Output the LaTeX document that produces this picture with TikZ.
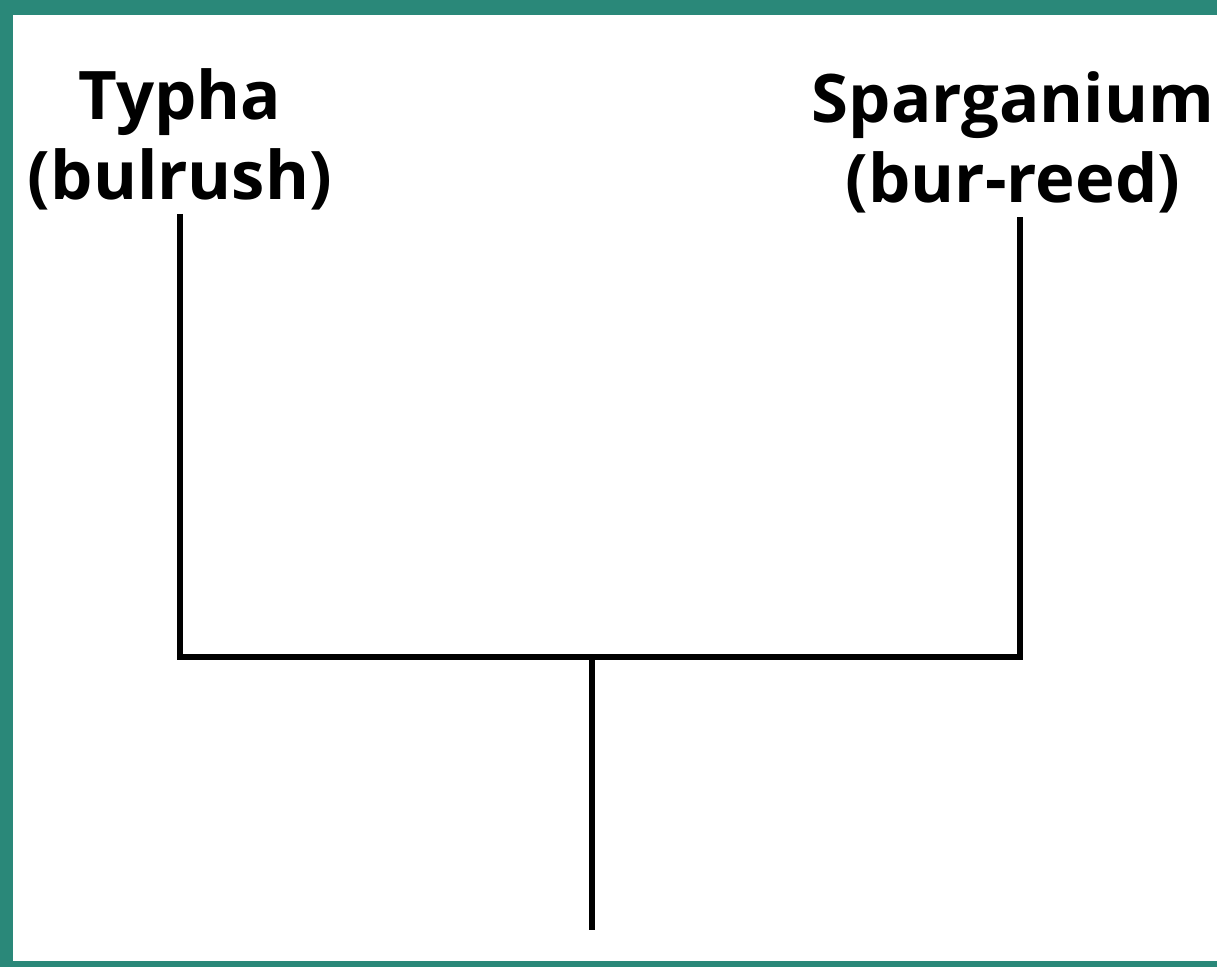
\documentclass[tikz,border=0pt]{standalone}
\usepackage{fontspec}
\setmainfont{Open Sans}
\usetikzlibrary{positioning}
\definecolor{frame}{RGB}{42,136,121}
\tikzset{
  taxon/.style={align=center, font=\fontsize{33.5}{40}\selectfont\bfseries, inner sep=0pt, outer sep=0pt},
  branch/.style={line width=3pt, line join=miter}
}
\begin{document}
\begin{tikzpicture}[x=0.5pt,y=-0.5pt]
\useasboundingbox (0,0) rectangle (1217,967);
\fill[frame] (0,0) rectangle (1217,967);
\fill[white] (13,15) rectangle (1217,961);
% tips and fork
\coordinate (typhaTip) at (180,214);
\coordinate (sparTip) at (1020,217);
\coordinate (fork) at (592,657);
\coordinate (root) at (592,930);
\node[taxon, above=2pt of typhaTip] (typha) {Typha\\(bulrush)};
\node[taxon, above=2pt of sparTip, xshift=-3.5pt] (sparganium) {Sparganium\\(bur-reed)};
\draw[branch] (typhaTip) |- (fork) -| (sparTip);
\draw[branch] (fork) -- (root);
\end{tikzpicture}
\end{document}
